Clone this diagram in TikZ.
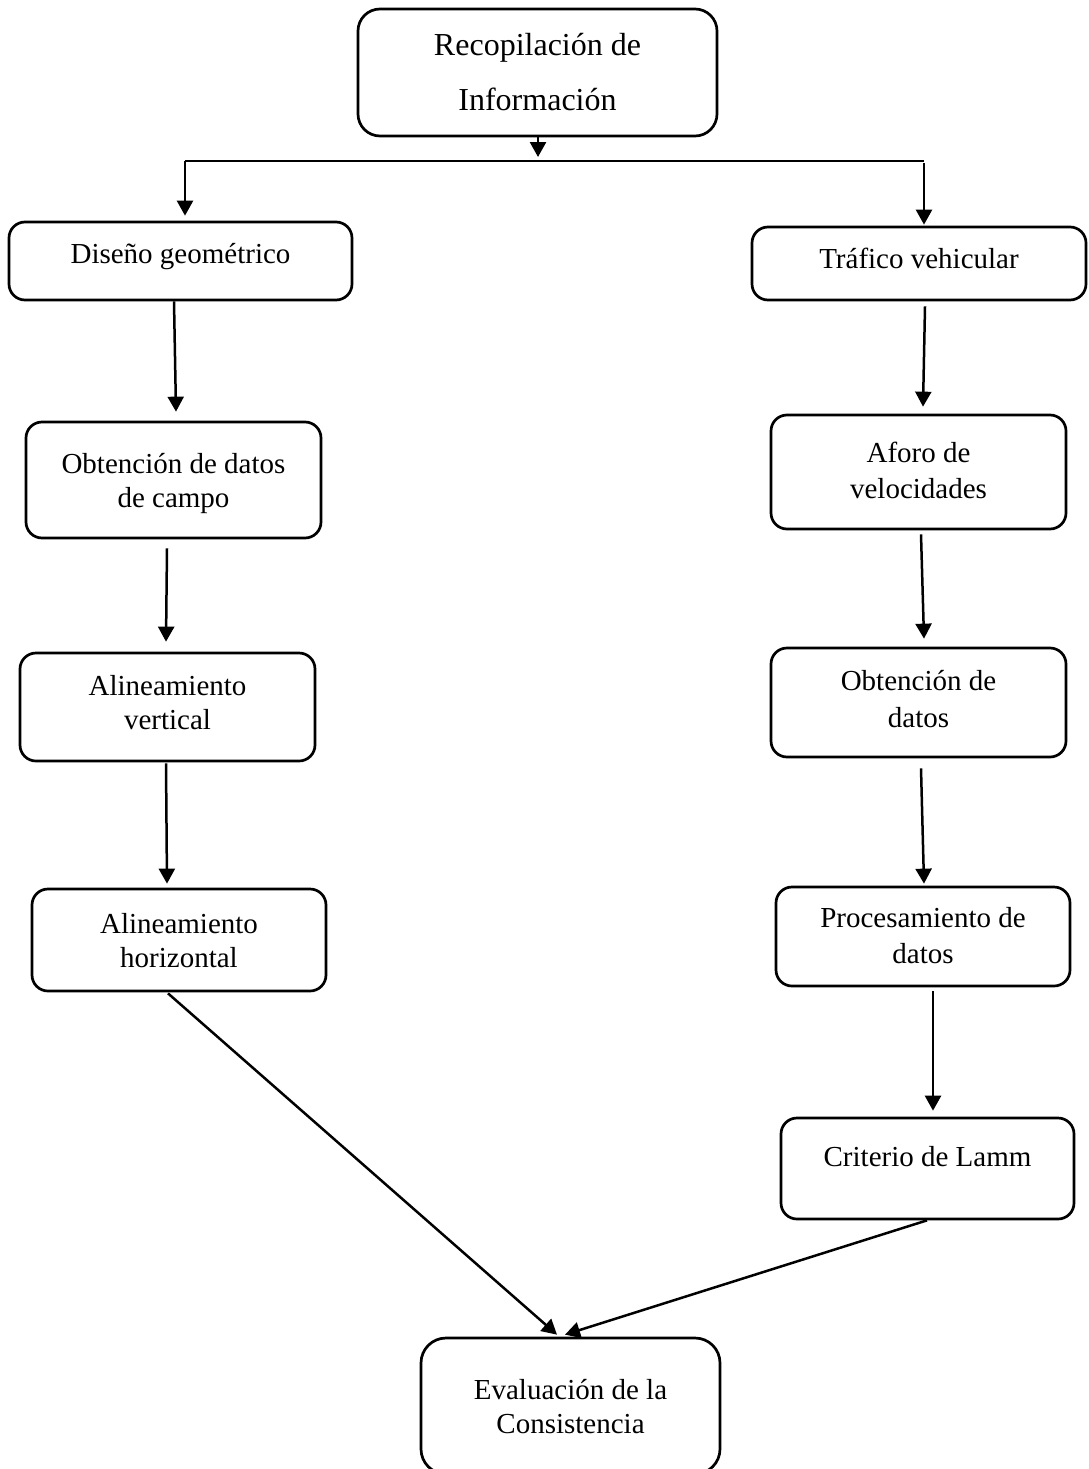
\documentclass[tikz,border=0pt]{standalone}
\usepackage{fontspec}
\setmainfont{Liberation Serif}
\usetikzlibrary{arrows.meta}
\newcommand\boxtext[2]{\raisebox{#1pt}[0pt][0pt]{\begin{tabular}[t]{@{}c@{}}#2\end{tabular}}}
\tikzset{
  box/.style={draw, line width=2.7pt, rounded corners=16pt, inner sep=0pt,
    font=\fontsize{29}{34.5}\selectfont},
  arr/.style={line width=2.5pt, -{Triangle[length=15pt,width=16pt]}},
  bar/.style={line width=1.6pt},
}
\begin{document}
\begin{tikzpicture}[x=1pt,y=-1pt]
\fill[white] (0,0) rectangle (1088,1469);
\useasboundingbox (0,0) rectangle (1088,1469);
\begin{scope}
\clip (0,0) rectangle (1088,1469);
% boxes
\node[box, rounded corners=22pt, minimum width=359pt, minimum height=127pt,
  font=\fontsize{32}{54.7}\selectfont] (rec) at (537.5,72.5)
  {\boxtext{16.5}{Recopilación de\\Información}};
\node[box, minimum width=343pt, minimum height=78pt] (dis) at (180.5,261)
  {\boxtext{-2}{Diseño geométrico}};
\node[box, minimum width=334pt, minimum height=73pt] (tra) at (919,263.5)
  {\boxtext{-5}{Tráfico vehicular}};
\node[box, minimum width=295pt, minimum height=116pt] (obc) at (173.5,480)
  {\boxtext{7}{Obtención de datos\\de campo}};
\node[box, minimum width=295pt, minimum height=114pt,
  font=\fontsize{29}{36.5}\selectfont] (afo) at (918.5,472)
  {\boxtext{10}{Aforo de\\velocidades}};
\node[box, minimum width=295pt, minimum height=108pt] (alv) at (167.5,707)
  {\boxtext{12}{Alineamiento\\vertical}};
\node[box, minimum width=295pt, minimum height=109pt,
  font=\fontsize{29}{36.5}\selectfont] (obd) at (918.5,702.5)
  {\boxtext{12}{Obtención de\\datos}};
\node[box, minimum width=294pt, minimum height=102pt] (alh) at (179,940)
  {\boxtext{7}{Alineamiento\\horizontal}};
\node[box, minimum width=294pt, minimum height=99pt,
  font=\fontsize{29}{36.5}\selectfont] (pro) at (923,936.5)
  {\boxtext{9.5}{Procesamiento de\\datos}};
\node[box, minimum width=293pt, minimum height=101pt] (cri) at (927.5,1168.5)
  {\boxtext{2}{Criterio de Lamm}};
\node[box, rounded corners=25pt, minimum width=299pt, minimum height=136pt] (eva) at (570.5,1406)
  {\boxtext{6.7}{Evaluación de la\\Consistencia}};
% top distribution
\coordinate (hm) at (538,157);
\coordinate (hl) at (185,161);
\coordinate (hr) at (924,161);
\draw[arr] (rec.south -| hm) -- (hm);
\draw[bar] (hl) -- (hr);
\draw[arr] (hl) -- ([yshift=5pt]dis.north -| hl);
\draw[arr] ([yshift=-2pt]hr) -- ([yshift=1pt]tra.north -| hr);
% left column
\draw[arr] ([xshift=-6.5pt]dis.south) -- ([xshift=2.5pt,yshift=9pt]obc.north);
\draw[arr] ([xshift=-6.5pt,yshift=-9pt]obc.south) -- ([xshift=-1.5pt,yshift=10pt]alv.north);
\draw[arr] ([xshift=-1.5pt,yshift=-1pt]alv.south) -- ([xshift=-12pt,yshift=4pt]alh.north);
\draw[arr] ([xshift=-11pt,yshift=-1pt]alh.south) -- ([xshift=-13.5pt,yshift=2pt]eva.north);
% right column
\draw[arr] ([xshift=6pt,yshift=-5pt]tra.south) -- ([xshift=4.5pt,yshift=7pt]afo.north);
\draw[arr] ([xshift=2.5pt,yshift=-4pt]afo.south) -- ([xshift=5.5pt,yshift=8pt]obd.north);
\draw[arr] ([xshift=2.5pt,yshift=-10pt]obd.south) -- ([xshift=1pt,yshift=2pt]pro.north);
\draw[arr] ([xshift=10pt,yshift=-4pt]pro.south) -- ([xshift=5.5pt,yshift=6pt]cri.north);
\draw[arr] ([xshift=-0.5pt]cri.south) -- ([xshift=-5.5pt,yshift=2pt]eva.north);
\end{scope}
\end{tikzpicture}
\end{document}
